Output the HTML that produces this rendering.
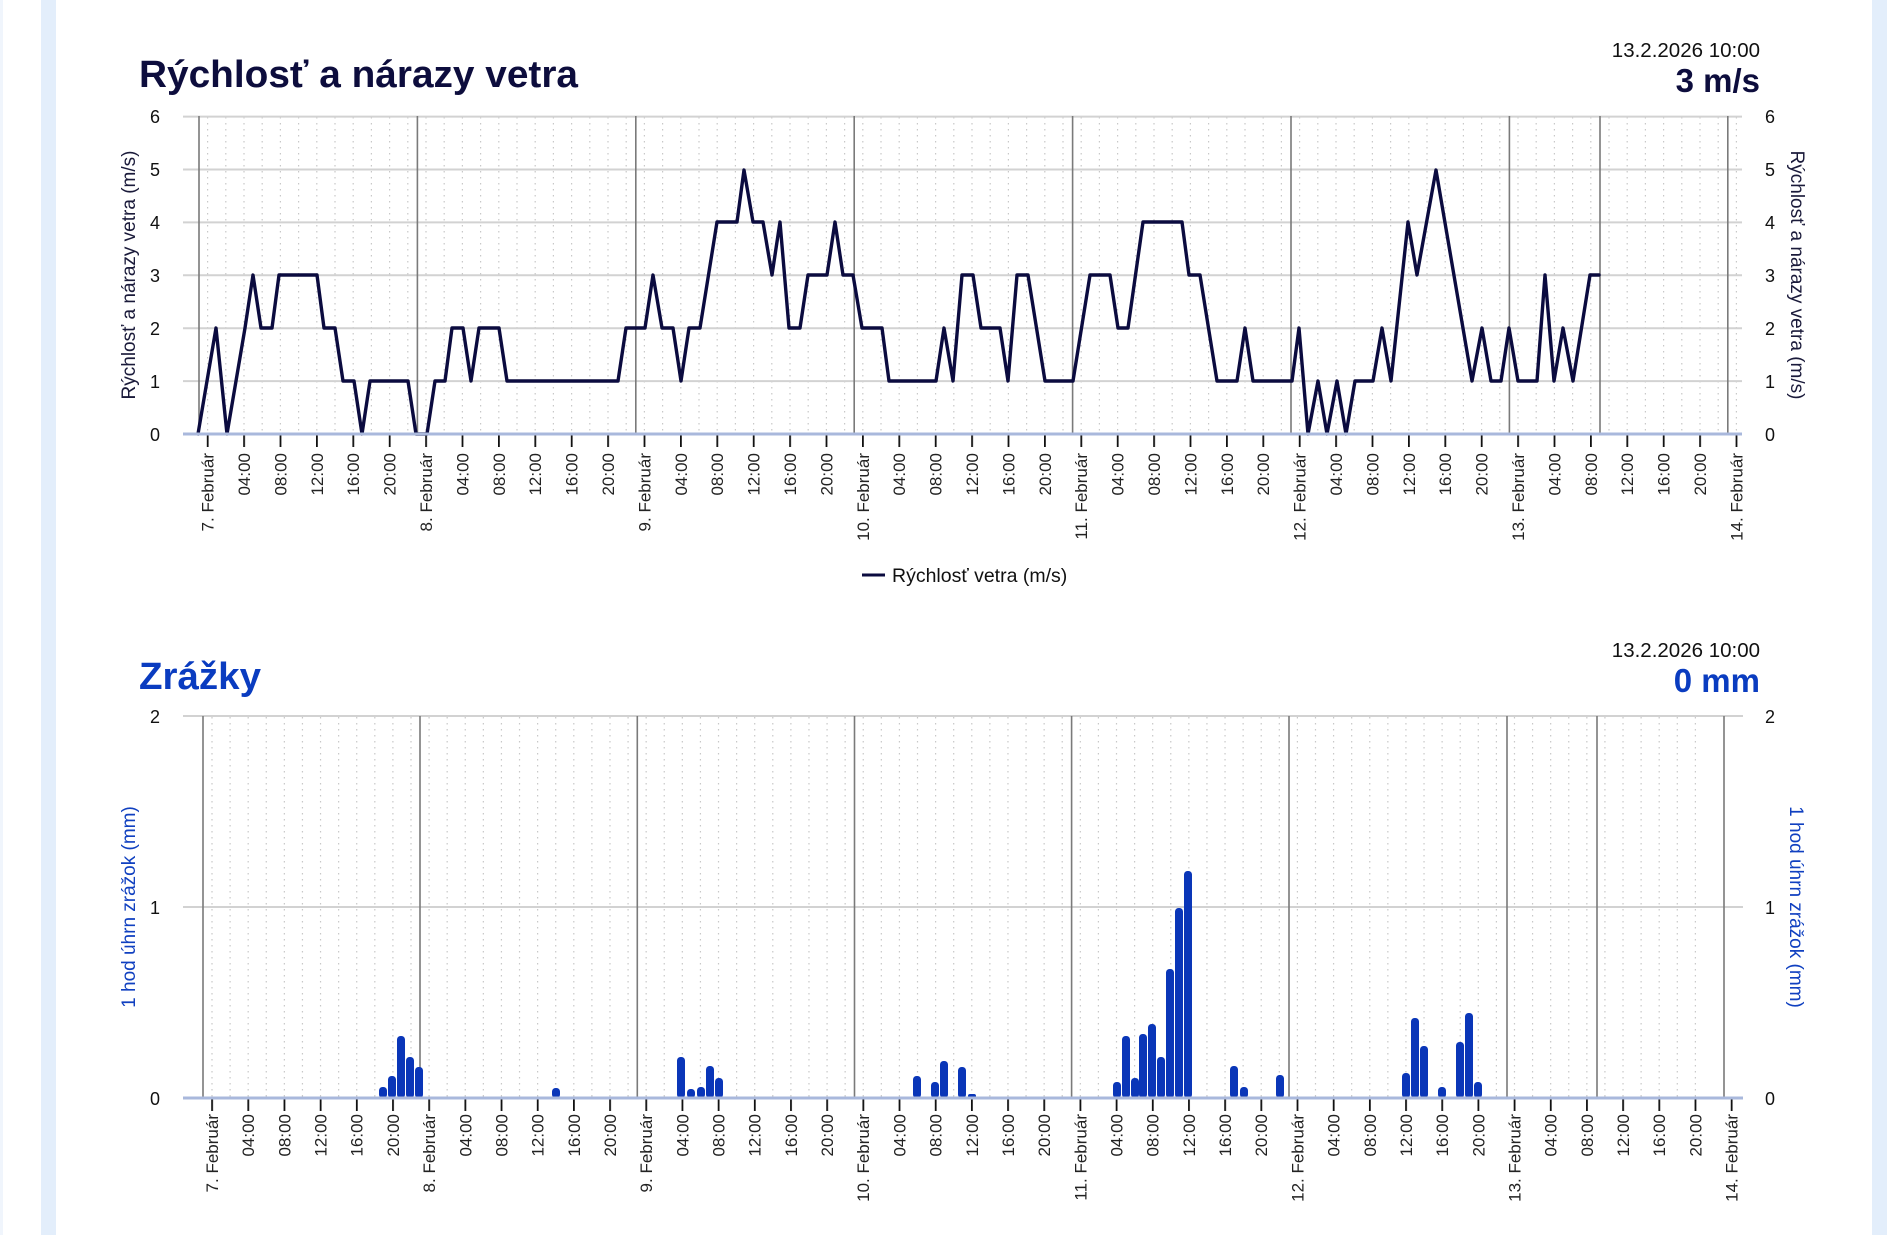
<!DOCTYPE html>
<html><head><meta charset="utf-8"><style>
html,body{margin:0;padding:0;background:#fff;width:1887px;height:1235px;overflow:hidden}
svg{display:block;font-family:"Liberation Sans",Arial,sans-serif}
</style></head><body>
<svg width="1887" height="1235" viewBox="0 0 1887 1235" xmlns="http://www.w3.org/2000/svg">
<defs>
<pattern id="tk1" x="206.8" y="0" width="36.4" height="20" patternUnits="userSpaceOnUse"><rect x="0" y="0" width="1.8" height="20" fill="#111"/></pattern>
<pattern id="tk2" x="211.2" y="0" width="36.18" height="20" patternUnits="userSpaceOnUse"><rect x="0" y="0" width="1.8" height="20" fill="#111"/></pattern>
</defs>
<rect x="41" y="0" width="15" height="1235" fill="#e3eefb"/>
<rect x="0" y="0" width="3" height="1235" fill="#f0f5fc"/>
<rect x="1872" y="0" width="15" height="1235" fill="#e3eefb"/>

<!-- CHART 1 -->
<text x="139" y="87" font-size="38" font-weight="bold" fill="#0d0d3d" textLength="439" lengthAdjust="spacingAndGlyphs">Rýchlosť a nárazy vetra</text>
<text x="1760" y="57" font-size="20.5" fill="#111" text-anchor="end">13.2.2026 10:00</text>
<text x="1760" y="92" font-size="33" font-weight="bold" fill="#0d0d3d" text-anchor="end">3 m/s</text>

<path fill="none" stroke="#c8c8c8" stroke-width="1.2" stroke-dasharray="1.5 4.5" d="M207.6 117 v317 m18.2 -317 v317 m18.2 -317 v317 m18.2 -317 v317 m18.2 -317 v317 m18.2 -317 v317 m18.2 -317 v317 m18.2 -317 v317 m18.2 -317 v317 m18.2 -317 v317 m18.2 -317 v317 m18.2 -317 v317 m18.2 -317 v317 m18.2 -317 v317 m18.2 -317 v317 m18.2 -317 v317 m18.2 -317 v317 m18.2 -317 v317 m18.2 -317 v317 m18.2 -317 v317 m18.2 -317 v317 m18.2 -317 v317 m18.2 -317 v317 m18.2 -317 v317 m18.2 -317 v317 m18.2 -317 v317 m18.2 -317 v317 m18.2 -317 v317 m18.2 -317 v317 m18.2 -317 v317 m18.2 -317 v317 m18.2 -317 v317 m18.2 -317 v317 m18.2 -317 v317 m18.2 -317 v317 m18.2 -317 v317 m18.2 -317 v317 m18.2 -317 v317 m18.2 -317 v317 m18.2 -317 v317 m18.2 -317 v317 m18.2 -317 v317 m18.2 -317 v317 m18.2 -317 v317 m18.2 -317 v317 m18.2 -317 v317 m18.2 -317 v317 m18.2 -317 v317 m18.2 -317 v317 m18.2 -317 v317 m18.2 -317 v317 m18.2 -317 v317 m18.2 -317 v317 m18.2 -317 v317 m18.2 -317 v317 m18.2 -317 v317 m18.2 -317 v317 m18.2 -317 v317 m18.2 -317 v317 m18.2 -317 v317 m18.2 -317 v317 m18.2 -317 v317 m18.2 -317 v317 m18.2 -317 v317 m18.2 -317 v317 m18.2 -317 v317 m18.2 -317 v317 m18.2 -317 v317 m18.2 -317 v317 m18.2 -317 v317 m18.2 -317 v317 m18.2 -317 v317 m18.2 -317 v317 m18.2 -317 v317 m18.2 -317 v317 m18.2 -317 v317 m18.2 -317 v317 m18.2 -317 v317 m18.2 -317 v317 m18.2 -317 v317 m18.2 -317 v317 m18.2 -317 v317 m18.2 -317 v317 m18.2 -317 v317 m18.2 -317 v317"/>
<g stroke="#d2d2d2" stroke-width="2">
<line x1="183" y1="116.6" x2="1742" y2="116.6"/><line x1="183" y1="169.5" x2="1742" y2="169.5"/><line x1="183" y1="222.4" x2="1742" y2="222.4"/><line x1="183" y1="275.3" x2="1742" y2="275.3"/><line x1="183" y1="328.2" x2="1742" y2="328.2"/><line x1="183" y1="381.1" x2="1742" y2="381.1"/>
</g>
<g stroke="#7a7a7a" stroke-width="1.6">
<line x1="199" y1="116" x2="199" y2="434"/><line x1="417.4" y1="116" x2="417.4" y2="434"/><line x1="635.8" y1="116" x2="635.8" y2="434"/><line x1="854.2" y1="116" x2="854.2" y2="434"/><line x1="1072.6" y1="116" x2="1072.6" y2="434"/><line x1="1291" y1="116" x2="1291" y2="434"/><line x1="1509.4" y1="116" x2="1509.4" y2="434"/><line x1="1600" y1="116" x2="1600" y2="434"/><line x1="1727.8" y1="116" x2="1727.8" y2="434"/>
</g>
<rect x="183" y="435" width="1559" height="12" fill="url(#tk1)"/>
<polyline fill="none" stroke="#0b0b3f" stroke-width="3.4" stroke-linejoin="round" stroke-linecap="round" points="198,434 216,328 227,434 245,328 253,275 261,328 272,328 279,275 317,275 324,328 335,328 343,381 354,381 362,434 370,381 408,381 416,434 427,434 435,381 445,381 452,328 463,328 471,381 479,328 499,328 507,381 618,381 626,328 645,328 653,275 662,328 673,328 681,381 689,328 700,328 717,222 737,222 744,170 753,222 763,222 772,275 780,222 789,328 800,328 808,275 827,275 835,222 843,275 853,275 862,328 882,328 889,381 936,381 944,328 953,381 962,275 973,275 981,328 1000,328 1008,381 1017,275 1028,275 1045,381 1073,381 1090,275 1110,275 1118,328 1128,328 1143,222 1182,222 1189,275 1200,275 1217,381 1237,381 1245,328 1253,381 1292,381 1299,328 1308,434 1318,381 1327,434 1337,381 1346,434 1355,381 1373,381 1382,328 1391,381 1408,222 1417,275 1436,170 1472,381 1482,328 1491,381 1501,381 1509,328 1518,381 1537,381 1545,275 1554,381 1563,328 1573,381 1590,275 1599,275"/>
<line x1="183" y1="434" x2="1742" y2="434" stroke="#a9b8dc" stroke-width="3"/>
<g font-size="18" fill="#111" text-anchor="middle">
<text x="155" y="123">6</text><text x="155" y="176">5</text><text x="155" y="229">4</text><text x="155" y="282">3</text><text x="155" y="335">2</text><text x="155" y="388">1</text><text x="155" y="441">0</text>
<text x="1770" y="123">6</text><text x="1770" y="176">5</text><text x="1770" y="229">4</text><text x="1770" y="282">3</text><text x="1770" y="335">2</text><text x="1770" y="388">1</text><text x="1770" y="441">0</text>
</g>
<text transform="translate(135,275) rotate(-90)" font-size="19" fill="#1a1a3a" text-anchor="middle">Rýchlosť a nárazy vetra (m/s)</text>
<text transform="translate(1791,275) rotate(90)" font-size="19" fill="#1a1a3a" text-anchor="middle">Rýchlosť a nárazy vetra (m/s)</text>
<g font-size="17" fill="#222" text-anchor="end">
<text transform="translate(213.6,453) rotate(-90)">7. Február</text>
<text transform="translate(250,453) rotate(-90)">04:00</text>
<text transform="translate(286.4,453) rotate(-90)">08:00</text>
<text transform="translate(322.8,453) rotate(-90)">12:00</text>
<text transform="translate(359.2,453) rotate(-90)">16:00</text>
<text transform="translate(395.6,453) rotate(-90)">20:00</text>
<text transform="translate(432,453) rotate(-90)">8. Február</text>
<text transform="translate(468.4,453) rotate(-90)">04:00</text>
<text transform="translate(504.8,453) rotate(-90)">08:00</text>
<text transform="translate(541.2,453) rotate(-90)">12:00</text>
<text transform="translate(577.6,453) rotate(-90)">16:00</text>
<text transform="translate(614,453) rotate(-90)">20:00</text>
<text transform="translate(650.4,453) rotate(-90)">9. Február</text>
<text transform="translate(686.8,453) rotate(-90)">04:00</text>
<text transform="translate(723.2,453) rotate(-90)">08:00</text>
<text transform="translate(759.6,453) rotate(-90)">12:00</text>
<text transform="translate(796,453) rotate(-90)">16:00</text>
<text transform="translate(832.4,453) rotate(-90)">20:00</text>
<text transform="translate(868.8,453) rotate(-90)">10. Február</text>
<text transform="translate(905.2,453) rotate(-90)">04:00</text>
<text transform="translate(941.6,453) rotate(-90)">08:00</text>
<text transform="translate(978,453) rotate(-90)">12:00</text>
<text transform="translate(1014.4,453) rotate(-90)">16:00</text>
<text transform="translate(1050.8,453) rotate(-90)">20:00</text>
<text transform="translate(1087.2,453) rotate(-90)">11. Február</text>
<text transform="translate(1123.6,453) rotate(-90)">04:00</text>
<text transform="translate(1160,453) rotate(-90)">08:00</text>
<text transform="translate(1196.4,453) rotate(-90)">12:00</text>
<text transform="translate(1232.8,453) rotate(-90)">16:00</text>
<text transform="translate(1269.2,453) rotate(-90)">20:00</text>
<text transform="translate(1305.6,453) rotate(-90)">12. Február</text>
<text transform="translate(1342,453) rotate(-90)">04:00</text>
<text transform="translate(1378.4,453) rotate(-90)">08:00</text>
<text transform="translate(1414.8,453) rotate(-90)">12:00</text>
<text transform="translate(1451.2,453) rotate(-90)">16:00</text>
<text transform="translate(1487.6,453) rotate(-90)">20:00</text>
<text transform="translate(1524,453) rotate(-90)">13. Február</text>
<text transform="translate(1560.4,453) rotate(-90)">04:00</text>
<text transform="translate(1596.8,453) rotate(-90)">08:00</text>
<text transform="translate(1633.2,453) rotate(-90)">12:00</text>
<text transform="translate(1669.6,453) rotate(-90)">16:00</text>
<text transform="translate(1706,453) rotate(-90)">20:00</text>
<text transform="translate(1742.4,453) rotate(-90)">14. Február</text>
</g>
<line x1="862" y1="575" x2="885" y2="575" stroke="#0b0b3f" stroke-width="3"/>
<text x="892" y="582" font-size="19.5" fill="#111">Rýchlosť vetra (m/s)</text>

<!-- CHART 2 -->
<text x="139" y="689" font-size="38" font-weight="bold" fill="#0a3cc0" textLength="122" lengthAdjust="spacingAndGlyphs">Zrážky</text>
<text x="1760" y="657" font-size="20.5" fill="#111" text-anchor="end">13.2.2026 10:00</text>
<text x="1760" y="692" font-size="33" font-weight="bold" fill="#0a3cc0" text-anchor="end">0 mm</text>

<path fill="none" stroke="#c8c8c8" stroke-width="1.2" stroke-dasharray="1.5 4.5" d="M212 717 v381 m18.09 -381 v381 m18.09 -381 v381 m18.09 -381 v381 m18.09 -381 v381 m18.09 -381 v381 m18.09 -381 v381 m18.09 -381 v381 m18.09 -381 v381 m18.09 -381 v381 m18.09 -381 v381 m18.09 -381 v381 m18.09 -381 v381 m18.09 -381 v381 m18.09 -381 v381 m18.09 -381 v381 m18.09 -381 v381 m18.09 -381 v381 m18.09 -381 v381 m18.09 -381 v381 m18.09 -381 v381 m18.09 -381 v381 m18.09 -381 v381 m18.09 -381 v381 m18.09 -381 v381 m18.09 -381 v381 m18.09 -381 v381 m18.09 -381 v381 m18.09 -381 v381 m18.09 -381 v381 m18.09 -381 v381 m18.09 -381 v381 m18.09 -381 v381 m18.09 -381 v381 m18.09 -381 v381 m18.09 -381 v381 m18.09 -381 v381 m18.09 -381 v381 m18.09 -381 v381 m18.09 -381 v381 m18.09 -381 v381 m18.09 -381 v381 m18.09 -381 v381 m18.09 -381 v381 m18.09 -381 v381 m18.09 -381 v381 m18.09 -381 v381 m18.09 -381 v381 m18.09 -381 v381 m18.09 -381 v381 m18.09 -381 v381 m18.09 -381 v381 m18.09 -381 v381 m18.09 -381 v381 m18.09 -381 v381 m18.09 -381 v381 m18.09 -381 v381 m18.09 -381 v381 m18.09 -381 v381 m18.09 -381 v381 m18.09 -381 v381 m18.09 -381 v381 m18.09 -381 v381 m18.09 -381 v381 m18.09 -381 v381 m18.09 -381 v381 m18.09 -381 v381 m18.09 -381 v381 m18.09 -381 v381 m18.09 -381 v381 m18.09 -381 v381 m18.09 -381 v381 m18.09 -381 v381 m18.09 -381 v381 m18.09 -381 v381 m18.09 -381 v381 m18.09 -381 v381 m18.09 -381 v381 m18.09 -381 v381 m18.09 -381 v381 m18.09 -381 v381 m18.09 -381 v381 m18.09 -381 v381"/>
<g stroke="#d2d2d2" stroke-width="2">
<line x1="183" y1="716" x2="1743" y2="716"/><line x1="183" y1="907" x2="1743" y2="907"/>
</g>
<g stroke="#7a7a7a" stroke-width="1.6">
<line x1="203" y1="716" x2="203" y2="1098"/><line x1="420" y1="716" x2="420" y2="1098"/><line x1="637.3" y1="716" x2="637.3" y2="1098"/><line x1="854.5" y1="716" x2="854.5" y2="1098"/><line x1="1071.6" y1="716" x2="1071.6" y2="1098"/><line x1="1289" y1="716" x2="1289" y2="1098"/><line x1="1507" y1="716" x2="1507" y2="1098"/><line x1="1597" y1="716" x2="1597" y2="1098"/><line x1="1724" y1="716" x2="1724" y2="1098"/>
</g>
<rect x="183" y="1099" width="1560" height="12" fill="url(#tk2)"/>
<g fill="#0a36b8">
<rect x="379" y="1087" width="8" height="11" rx="3.5"/>
<rect x="388" y="1076" width="8" height="22" rx="3.5"/>
<rect x="397" y="1036" width="8" height="62" rx="3.5"/>
<rect x="406" y="1057" width="8" height="41" rx="3.5"/>
<rect x="415" y="1067" width="8" height="31" rx="3.5"/>
<rect x="552" y="1088" width="8" height="10" rx="3.5"/>
<rect x="677" y="1057" width="8" height="41" rx="3.5"/>
<rect x="687" y="1089" width="8" height="9" rx="3.5"/>
<rect x="697" y="1087" width="8" height="11" rx="3.5"/>
<rect x="706" y="1066" width="8" height="32" rx="3.5"/>
<rect x="715" y="1078" width="8" height="20" rx="3.5"/>
<rect x="913" y="1076" width="8" height="22" rx="3.5"/>
<rect x="931" y="1082" width="8" height="16" rx="3.5"/>
<rect x="940" y="1061" width="8" height="37" rx="3.5"/>
<rect x="958" y="1067" width="8" height="31" rx="3.5"/>
<rect x="968" y="1094" width="8" height="4" rx="2"/>
<rect x="1113" y="1082" width="8" height="16" rx="3.5"/>
<rect x="1122" y="1036" width="8" height="62" rx="3.5"/>
<rect x="1131" y="1078" width="8" height="20" rx="3.5"/>
<rect x="1139" y="1034" width="8" height="64" rx="3.5"/>
<rect x="1148" y="1024" width="8" height="74" rx="3.5"/>
<rect x="1157" y="1057" width="8" height="41" rx="3.5"/>
<rect x="1166" y="969" width="8" height="129" rx="3.5"/>
<rect x="1175" y="908" width="8" height="190" rx="3.5"/>
<rect x="1184" y="871" width="8" height="227" rx="3.5"/>
<rect x="1230" y="1066" width="8" height="32" rx="3.5"/>
<rect x="1240" y="1087" width="8" height="11" rx="3.5"/>
<rect x="1276" y="1075" width="8" height="23" rx="3.5"/>
<rect x="1402" y="1073" width="8" height="25" rx="3.5"/>
<rect x="1411" y="1018" width="8" height="80" rx="3.5"/>
<rect x="1420" y="1046" width="8" height="52" rx="3.5"/>
<rect x="1438" y="1087" width="8" height="11" rx="3.5"/>
<rect x="1456" y="1042" width="8" height="56" rx="3.5"/>
<rect x="1465" y="1013" width="8" height="85" rx="3.5"/>
<rect x="1474" y="1082" width="8" height="16" rx="3.5"/>
</g>
<line x1="183" y1="1098" x2="1743" y2="1098" stroke="#a9b8dc" stroke-width="3"/>
<g font-size="18" fill="#111" text-anchor="middle">
<text x="155" y="723">2</text><text x="155" y="914">1</text><text x="155" y="1105">0</text>
<text x="1770" y="723">2</text><text x="1770" y="914">1</text><text x="1770" y="1105">0</text>
</g>
<text transform="translate(135,907) rotate(-90)" font-size="19" fill="#1040c0" text-anchor="middle">1 hod úhrn zrážok (mm)</text>
<text transform="translate(1790,907) rotate(90)" font-size="19" fill="#1040c0" text-anchor="middle">1 hod úhrn zrážok (mm)</text>
<g font-size="17" fill="#222" text-anchor="end">
<text transform="translate(218,1114) rotate(-90)">7. Február</text>
<text transform="translate(254.2,1114) rotate(-90)">04:00</text>
<text transform="translate(290.4,1114) rotate(-90)">08:00</text>
<text transform="translate(326.5,1114) rotate(-90)">12:00</text>
<text transform="translate(362.7,1114) rotate(-90)">16:00</text>
<text transform="translate(398.9,1114) rotate(-90)">20:00</text>
<text transform="translate(435.1,1114) rotate(-90)">8. Február</text>
<text transform="translate(471.3,1114) rotate(-90)">04:00</text>
<text transform="translate(507.4,1114) rotate(-90)">08:00</text>
<text transform="translate(543.6,1114) rotate(-90)">12:00</text>
<text transform="translate(579.8,1114) rotate(-90)">16:00</text>
<text transform="translate(616,1114) rotate(-90)">20:00</text>
<text transform="translate(652.2,1114) rotate(-90)">9. Február</text>
<text transform="translate(688.3,1114) rotate(-90)">04:00</text>
<text transform="translate(724.5,1114) rotate(-90)">08:00</text>
<text transform="translate(760.7,1114) rotate(-90)">12:00</text>
<text transform="translate(796.9,1114) rotate(-90)">16:00</text>
<text transform="translate(833.1,1114) rotate(-90)">20:00</text>
<text transform="translate(869.2,1114) rotate(-90)">10. Február</text>
<text transform="translate(905.4,1114) rotate(-90)">04:00</text>
<text transform="translate(941.6,1114) rotate(-90)">08:00</text>
<text transform="translate(977.8,1114) rotate(-90)">12:00</text>
<text transform="translate(1014,1114) rotate(-90)">16:00</text>
<text transform="translate(1050.1,1114) rotate(-90)">20:00</text>
<text transform="translate(1086.3,1114) rotate(-90)">11. Február</text>
<text transform="translate(1122.5,1114) rotate(-90)">04:00</text>
<text transform="translate(1158.7,1114) rotate(-90)">08:00</text>
<text transform="translate(1194.9,1114) rotate(-90)">12:00</text>
<text transform="translate(1231,1114) rotate(-90)">16:00</text>
<text transform="translate(1267.2,1114) rotate(-90)">20:00</text>
<text transform="translate(1303.4,1114) rotate(-90)">12. Február</text>
<text transform="translate(1339.6,1114) rotate(-90)">04:00</text>
<text transform="translate(1375.8,1114) rotate(-90)">08:00</text>
<text transform="translate(1411.9,1114) rotate(-90)">12:00</text>
<text transform="translate(1448.1,1114) rotate(-90)">16:00</text>
<text transform="translate(1484.3,1114) rotate(-90)">20:00</text>
<text transform="translate(1520.5,1114) rotate(-90)">13. Február</text>
<text transform="translate(1556.7,1114) rotate(-90)">04:00</text>
<text transform="translate(1592.8,1114) rotate(-90)">08:00</text>
<text transform="translate(1629,1114) rotate(-90)">12:00</text>
<text transform="translate(1665.2,1114) rotate(-90)">16:00</text>
<text transform="translate(1701.4,1114) rotate(-90)">20:00</text>
<text transform="translate(1737.6,1114) rotate(-90)">14. Február</text>
</g>
</svg>
</body></html>
